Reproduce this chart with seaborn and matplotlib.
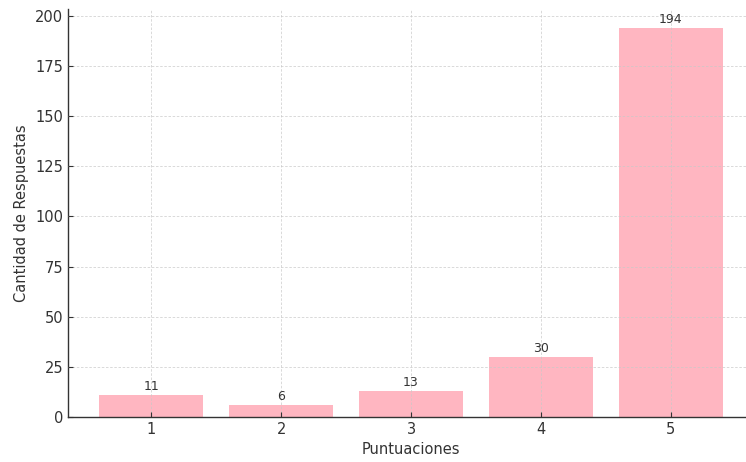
import matplotlib
matplotlib.use("Agg")
import matplotlib.pyplot as plt
import seaborn as sns
import pandas as pd

# Survey score distribution
puntuaciones = ["1", "2", "3", "4", "5"]
respuestas = [11, 6, 13, 30, 194]

df = pd.DataFrame({"Puntuaciones": puntuaciones, "Respuestas": respuestas})

sns.set_theme(style="white")
plt.rcParams["font.family"] = ["DejaVu Sans"]
text_color = "#333333"

fig = plt.figure(figsize=(7.46, 4.62), dpi=100)
ax = fig.add_axes([68 / 746, 45 / 462, 686 / 746, 408.5 / 462])

sns.barplot(data=df, x="Puntuaciones", y="Respuestas", color="#FFB6C1",
            saturation=1, width=0.8, linewidth=0, edgecolor="none", ax=ax)

for patch, val in zip(ax.patches, respuestas):
    ax.text(patch.get_x() + patch.get_width() / 2, val + 1, str(val),
            ha="center", va="bottom", fontsize=9, color=text_color)

ax.set_xlim(-0.64, 4.64)
ax.set_ylim(0, 203.7)
ax.set_yticks([0, 25, 50, 75, 100, 125, 150, 175, 200])

ax.set_xlabel("Puntuaciones", fontsize=10.5, color=text_color)
ax.set_ylabel("Cantidad de Respuestas", fontsize=10.5, color=text_color)

ax.grid(True, linestyle=(0, (3, 2)), color="#c8c8c8", linewidth=0.6, alpha=0.8)
ax.set_axisbelow(False)

for side in ["top", "right"]:
    ax.spines[side].set_visible(False)
for side in ["left", "bottom"]:
    ax.spines[side].set_color("#333333")
    ax.spines[side].set_linewidth(1.0)

ax.tick_params(axis="both", direction="in", length=3.5, width=0.8,
               colors="#333333", labelsize=10.5, labelcolor=text_color,
               left=True, bottom=True)

fig.savefig("out.png", dpi=100)
